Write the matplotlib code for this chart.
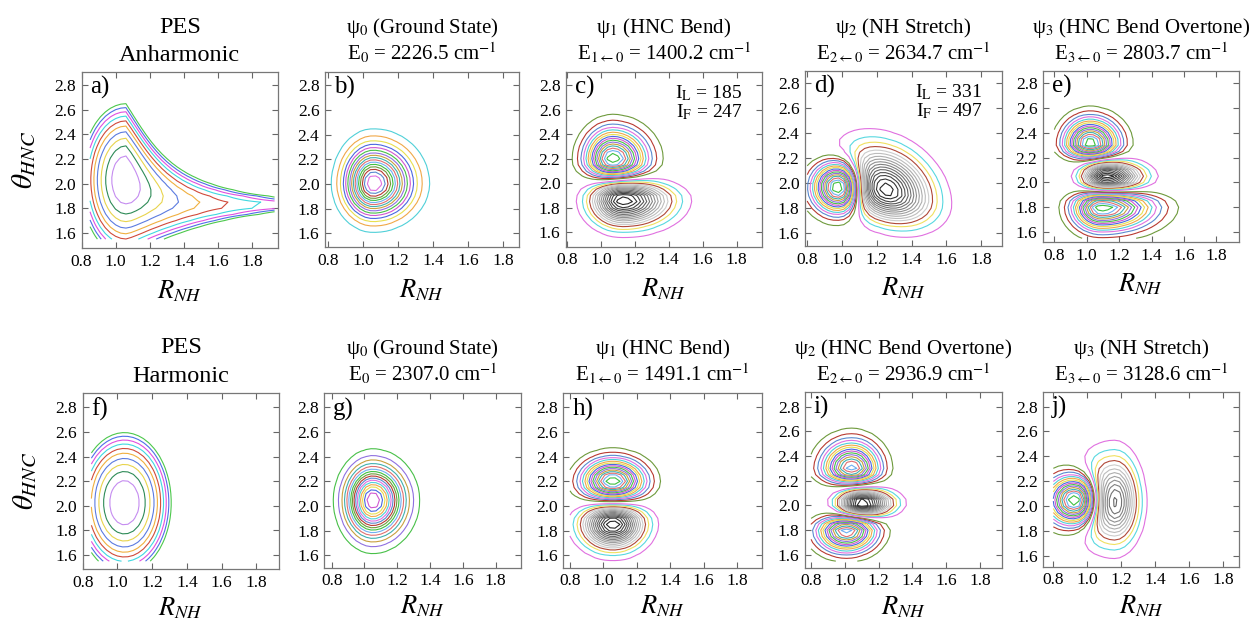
import numpy as np
import matplotlib.pyplot as plt

plt.rcParams['font.family'] = ['Liberation Serif', 'DejaVu Serif']
plt.rcParams['mathtext.fontset'] = 'stix'

W, H = 1251, 620

# panel boxes in pixels: left, top, right, bottom
boxes = {
    'a': (81.5, 72, 278, 248), 'b': (325, 71.7, 519, 247.3), 'c': (566, 71.7, 762, 246.7),
    'd': (805, 70.7, 1002, 246), 'e': (1043, 70.7, 1239, 242),
    'f': (82.7, 393.3, 279, 569.3), 'g': (324.3, 393.3, 521, 567.7), 'h': (563.3, 393.3, 762, 567.7),
    'i': (805, 391.7, 1002, 567.7), 'j': (1043.3, 391.7, 1239.3, 566.7),
}
xlims = {'a': (0.80, 1.95), 'b': (0.78, 1.89), 'c': (0.795, 1.95), 'd': (0.787, 1.92), 'e': (0.73, 1.94),
         'f': (0.80, 1.93), 'g': (0.755, 1.955), 'h': (0.76, 1.95), 'i': (0.764, 1.93), 'j': (0.741, 1.894)}
ylims = {'a': (1.478, 2.905), 'b': (1.488, 2.908), 'c': (1.483, 2.908), 'd': (1.498, 2.90), 'e': (1.52, 2.90),
         'f': (1.484, 2.914), 'g': (1.499, 2.914), 'h': (1.499, 2.914), 'i': (1.497, 2.92), 'j': (1.51, 2.92)}

title_line1 = {
    'a': 'PES', 'b': r'ψ$_0$ (Ground State)', 'c': r'ψ$_1$ (HNC Bend)', 'd': r'ψ$_2$ (NH Stretch)',
    'e': r'ψ$_3$ (HNC Bend Overtone)', 'f': 'PES', 'g': r'ψ$_0$ (Ground State)', 'h': r'ψ$_1$ (HNC Bend)',
    'i': r'ψ$_2$ (HNC Bend Overtone)', 'j': r'ψ$_3$ (NH Stretch)',
}
title_line2 = {
    'a': 'Anharmonic', 'b': r'E$_0$ = 2226.5 cm$^{-1}$', 'c': r'E$_{1\leftarrow0}$ = 1400.2 cm$^{-1}$',
    'd': r'E$_{2\leftarrow0}$ = 2634.7 cm$^{-1}$', 'e': r'E$_{3\leftarrow0}$ = 2803.7 cm$^{-1}$',
    'f': 'Harmonic', 'g': r'E$_0$ = 2307.0 cm$^{-1}$', 'h': r'E$_{1\leftarrow0}$ = 1491.1 cm$^{-1}$',
    'i': r'E$_{2\leftarrow0}$ = 2936.9 cm$^{-1}$', 'j': r'E$_{3\leftarrow0}$ = 3128.6 cm$^{-1}$',
}
intensities = {'c': (185, 247), 'd': (331, 497)}

x_ticks = [0.8, 1.0, 1.2, 1.4, 1.6, 1.8]
y_ticks = [1.6, 1.8, 2.0, 2.2, 2.4, 2.6, 2.8]

pes_levels = [0.0325, 0.065, 0.0975, 0.13, 0.1625, 0.195, 0.2275, 0.26, 0.2925, 0.325]
anh_min = (1.06, 2.03)
harm_min = (1.04, 2.025)
harm_kx = 4.46

# wavefunction lobes: x0, y0, sx_left, sx_right, sy_down, sy_up, amplitude, shear
lobes = {
    'b': [(1.056, 2.004, 0.100, 0.135, 0.165, 0.185, 1.0, 0.0)],
    'c': [(1.07, 2.19, 0.10, 0.125, 0.09, 0.155, 1.0, 0.0),
          (1.13, 1.865, 0.115, 0.17, 0.128, 0.09, -1.0, 0.0)],
    'd': [(0.995, 1.975, 0.10, 0.08, 0.13, 0.13, 1.3, 0.0),
          (1.25, 1.945, 0.17, 0.16, 0.15, 0.20, -1.0, -0.3)],
    'e': [(1.02, 2.31, 0.10, 0.112, 0.07, 0.127, 1.0, 0.0),
          (1.12, 2.045, 0.09, 0.135, 0.065, 0.075, -1.0, 0.0),
          (1.09, 1.805, 0.11, 0.20, 0.12, 0.07, 1.0, 0.0)],
    'g': [(1.05, 2.045, 0.10, 0.12, 0.18, 0.175, 1.0, 0.0)],
    'h': [(1.056, 2.196, 0.115, 0.12, 0.09, 0.114, 1.0, 0.0),
          (1.058, 1.857, 0.115, 0.114, 0.125, 0.09, -1.0, 0.0)],
    'i': [(1.04, 2.293, 0.11, 0.104, 0.07, 0.14, 1.0, 0.0),
          (1.10, 2.02, 0.085, 0.11, 0.065, 0.065, -1.15, 0.0),
          (1.01, 1.80, 0.11, 0.11, 0.11, 0.07, 1.0, 0.0)],
    'j': [(0.945, 2.045, 0.11, 0.08, 0.13, 0.13, 1.6, 0.0),
          (1.16, 2.03, 0.14, 0.084, 0.20, 0.22, -1.0, 0.0)],
}

pes_colors = ['#c58cf0', '#2e8b57', '#e8d44d', '#5b7be0', '#f0b040',
              '#d04a3a', '#40d8e0', '#e050e0', '#4f6fe8', '#4cc84c']
pos_colors = ['#6e9a3c', '#b83a32', '#5a8ad0', '#e070e0', '#50d0d8', '#f0a848', '#e8e050', '#4a68e0',
              '#d058d0', '#48c048', '#9070e0', '#c8a040', '#40b0b0', '#e07070', '#70b0f0', '#40c040']
neg_colors = ['#e070e0', '#58d8e0', '#f0e060', '#b04838']
color_start = {'b': 4, 'g': 9}


def lobe_field(X, Y, lobe_list):
    psi = np.zeros_like(X)
    for x0, y0, sxl, sxr, syd, syu, amp, shear in lobe_list:
        dx = X - x0
        dy = Y - (y0 + shear * dx)
        sx = np.where(dx < 0, sxl, sxr)
        sy = np.where(dy < 0, syd, syu)
        psi += amp * np.exp(-0.5 * ((dx / sx) ** 2 + (dy / sy) ** 2))
    return psi


def pes_anharmonic(X, Y):
    dx = X - anh_min[0]
    dxp = np.clip(dx, 0, None)
    vr = np.where(dx < 0, 4.6 * dx ** 2, 0.12 * (1 - np.exp(-6.5 * dxp)) ** 2 + 0.13 * dxp)
    k = 0.85 * np.exp(3.8 * dxp)
    y0 = anh_min[1] - 0.2 * np.tanh(dxp / 0.25)
    return vr + k * (Y - y0) ** 2


def pes_harmonic(X, Y):
    return harm_kx * (X - harm_min[0]) ** 2 + (Y - harm_min[1]) ** 2


fig = plt.figure(figsize=(W / 100, H / 100), dpi=100)

xw = np.arange(0.80, 1.951, 0.03)
yw = np.arange(1.55, 2.901, 0.05)
XW, YW = np.meshgrid(xw, yw)
xp = np.arange(0.85, 1.931, 0.03)
XP, YP = np.meshgrid(xp, yw)

for key in 'abcdefghij':
    l, t, r, b = boxes[key]
    ax = fig.add_axes([l / W, 1 - b / H, (r - l) / W, (b - t) / H])
    top_row = key in 'abcde'

    if key in ('a', 'f'):
        V = pes_anharmonic(XP, YP) if key == 'a' else pes_harmonic(XP, YP)
        ax.contour(XP, YP, V, levels=pes_levels, colors=pes_colors, linewidths=0.8)
    else:
        psi = lobe_field(XW, YW, lobes[key])
        step = np.abs(psi).max() / 17
        k = np.arange(1, 17)
        pos = step * k
        c0 = color_start.get(key, 0)
        ax.contour(XW, YW, psi, levels=pos, linewidths=0.8,
                   colors=[pos_colors[(c0 + i) % len(pos_colors)] for i in range(len(pos))])
        neg = -step * k[::-1]
        cols = []
        grays = np.linspace(0.8, 0.15, len(k) - len(neg_colors))
        for i in range(len(k)):
            if i < len(neg_colors):
                cols.append(neg_colors[i])
            else:
                g = grays[i - len(neg_colors)]
                cols.append((g, g, g))
        ax.contour(XW, YW, psi, levels=neg, linewidths=0.8, colors=cols[::-1])

    ax.set_xlim(*xlims[key])
    ax.set_ylim(*ylims[key])
    ax.set_xticks(x_ticks)
    ax.set_yticks(y_ticks)
    ax.set_xticklabels(['%.1f' % v for v in x_ticks])
    ax.set_yticklabels(['%.1f' % v for v in y_ticks])
    ax.tick_params(direction='in', top=True, right=True, length=4, width=0.8,
                   color='#666666', labelsize=12.5, pad=4)
    for s in ax.spines.values():
        s.set_color('#777777')
        s.set_linewidth(0.9)

    ax.set_xlabel(r'$R_{NH}$', fontsize=19)
    ax.xaxis.set_label_coords(0.5, -0.17 if top_row else -0.15)
    if key in ('a', 'f'):
        ax.set_ylabel(r'$\theta_{HNC}$', fontsize=21, va='center')
        ax.yaxis.set_label_coords(-0.29, 0.5)

    ax.text(0.045, 0.91, key + ')', transform=ax.transAxes, fontsize=18, ha='left', va='center')

    if key in intensities:
        il, iff = intensities[key]
        ax.text(0.9, 0.875, r'I$_\mathrm{L}$ = %d' % il, transform=ax.transAxes,
                fontsize=14, ha='right', va='center')
        ax.text(0.9, 0.77, r'I$_\mathrm{F}$ = %d' % iff, transform=ax.transAxes,
                fontsize=14, ha='right', va='center')

    cx = (l + r) / 2 / W
    if key in ('a', 'f'):
        b1, b2 = (33, 61) if top_row else (353, 382)
        fs = 17.5
    else:
        b1, b2 = (33, 60) if top_row else (354, 381)
        fs = 15
    fig.text(cx, 1 - b1 / H, title_line1[key], ha='center', va='baseline', fontsize=fs)
    fig.text(cx, 1 - b2 / H, title_line2[key], ha='center', va='baseline', fontsize=fs)

fig.savefig('out.png', dpi=100)
